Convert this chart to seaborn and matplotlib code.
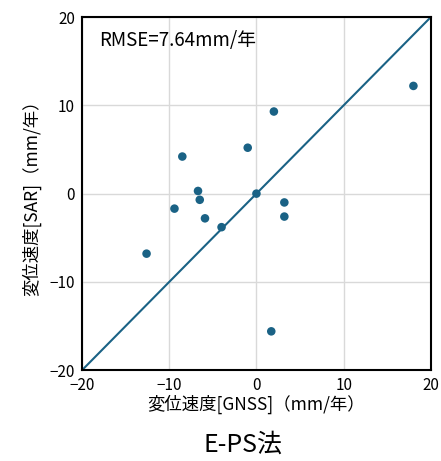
import numpy as np
import pandas as pd
import seaborn as sns
import matplotlib
matplotlib.use("Agg")
import matplotlib.pyplot as plt

# velocities (mm/year)
gnss = [18.0, 2.0, -8.5, -1.0, -6.7, -6.5, -9.4, 0.0, 3.2, 3.2, -5.9, -4.0, -12.6, 1.7]
sar = [12.2, 9.3, 4.2, 5.2, 0.3, -0.7, -1.7, 0.0, -1.0, -2.6, -2.8, -3.8, -6.8, -15.6]
ticks = [-20, -10, 0, 10, 20]
rmse_text = "RMSE=7.64mm/年"
xlabel = "変位速度[GNSS]（mm/年）"
ylabel = "変位速度[SAR]（mm/年）"
title = "E-PS法"

df = pd.DataFrame({"gnss": gnss, "sar": sar})

sns.set_style("whitegrid")
plt.rcParams['font.family'] = ['Noto Sans CJK JP', 'DejaVu Sans']
plt.rcParams['axes.unicode_minus'] = True

col = "#1a6285"
fig = plt.figure(figsize=(4.41, 4.61), dpi=100)
ax = fig.add_axes([0.186, 0.197, 0.791, 0.766])

ax.axline((0, 0), slope=1, color=col, lw=1.5, zorder=2)
sns.scatterplot(data=df, x="gnss", y="sar", ax=ax, color=col, s=38,
                edgecolor="none", zorder=3)

ax.set_xlim(-20, 20)
ax.set_ylim(-20, 20)
ax.set_xticks(ticks)
ax.set_yticks(ticks)
ax.tick_params(labelsize=11, length=0, colors="black")
ax.tick_params(axis="x", pad=5)
ax.tick_params(axis="y", pad=5)
ax.grid(color="#d9d9d9", lw=1)
for s in ax.spines.values():
    s.set_color("black")
    s.set_linewidth(1.5)

ax.set_xlabel(xlabel, fontsize=12.5, labelpad=0, color="black")
ax.set_ylabel(ylabel, fontsize=12.5, labelpad=6, color="black")
ax.text(0.05, 0.935, rmse_text, transform=ax.transAxes, fontsize=13.5,
        va="center", ha="left", color="black")
fig.text(0.55, 0.035, title, fontsize=18, ha="center", va="center",
         color="black")

fig.savefig("out.png", dpi=100)
